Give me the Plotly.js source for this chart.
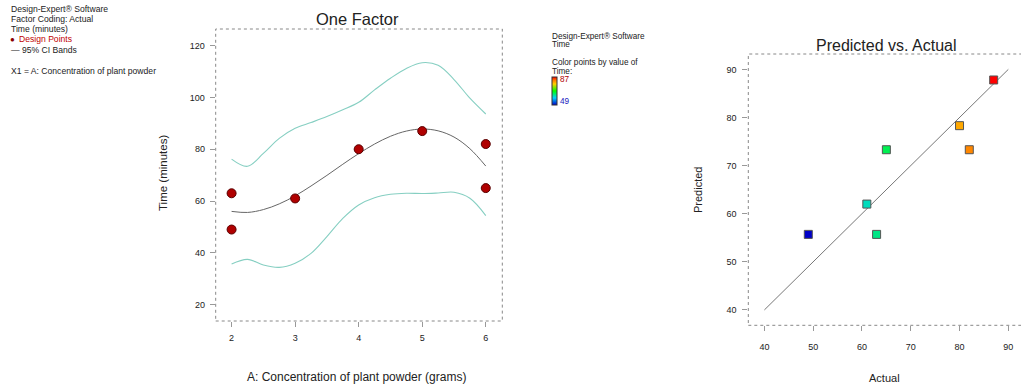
<!DOCTYPE html>
<html>
<head>
<meta charset="utf-8">
<script src="https://cdn.plot.ly/plotly-3.0.1.min.js"></script>
<style>html,body{margin:0;padding:0;background:#fff}#chart{width:1021px;height:388px}</style>
</head>
<body>
<div id="chart"></div>
<script>
// ---- One Factor plot data ----
const factorLevels = [2, 2, 3, 4, 5, 6, 6];
const timeObserved = [63, 49, 61, 80, 87, 82, 65];
const curveX = [2, 2.25, 2.5, 2.75, 3, 3.25, 3.5, 3.75, 4, 4.25, 4.5, 4.75, 5, 5.25, 5.5, 5.75, 6];
const fitTime = [56.0, 55.6, 56.7, 58.9, 62.0, 65.8, 69.9, 74.2, 78.3, 82.0, 85.0, 87.0, 87.8, 87.1, 84.7, 80.2, 73.5];
const upperCI = [76.2, 73.4, 78.4, 84.2, 88.1, 90.3, 92.6, 95.2, 98.1, 102.9, 107.4, 111.2, 113.4, 112.4, 106.9, 99.7, 93.6];
const lowerCI = [35.7, 37.5, 35.3, 34.4, 36.0, 39.8, 46.3, 53.3, 58.5, 61.3, 62.6, 63.0, 62.9, 63.1, 63.4, 61.1, 54.4];
const xTicks = [2, 3, 4, 5, 6];

// ---- Predicted vs. Actual data ----
const actualTime = [49, 61, 63, 65, 80, 82, 87];
const predictedTime = [55.7, 62.0, 55.7, 73.3, 78.3, 73.3, 87.8];
const diagonal = [40, 90];
const colorRange = [49, 87];

const W = 1021, H = 388;
const FONT = '"Liberation Sans", Arial, Helvetica, sans-serif';
const px = v => v / W;
const py = v => 1 - v / H;

const traces = [
  {x: curveX, y: upperCI, mode: 'lines', line: {color: '#86cfc2', width: 1.1, shape: 'spline'}, xaxis: 'x', yaxis: 'y', hoverinfo: 'skip'},
  {x: curveX, y: lowerCI, mode: 'lines', line: {color: '#86cfc2', width: 1.1, shape: 'spline'}, xaxis: 'x', yaxis: 'y', hoverinfo: 'skip'},
  {x: curveX, y: fitTime, mode: 'lines', line: {color: '#666666', width: 1, shape: 'spline'}, xaxis: 'x', yaxis: 'y'},
  {x: factorLevels, y: timeObserved, mode: 'markers', marker: {symbol: 'circle', size: 9, color: '#b00000', line: {color: '#5a0000', width: 1}}, xaxis: 'x', yaxis: 'y'},
  {x: diagonal, y: diagonal, mode: 'lines', line: {color: '#777777', width: 1}, xaxis: 'x2', yaxis: 'y2'},
  {x: actualTime, y: predictedTime, mode: 'markers', xaxis: 'x2', yaxis: 'y2',
   marker: {symbol: 'square', size: 8, color: actualTime, cmin: colorRange[0], cmax: colorRange[1],
     colorscale: [[0, '#0000c8'], [0.25, '#00d0ff'], [0.5, '#00ff00'], [0.75, '#ffd000'], [0.88, '#ff8000'], [1, '#ff0000']],
     line: {color: '#555', width: 1},
     showscale: true,
     colorbar: {x: px(552), xanchor: 'left', y: py(77), yanchor: 'top', len: 28, lenmode: 'pixels',
       thickness: 5, thicknessmode: 'pixels', xpad: 0, ypad: 0, outlinewidth: 1, outlinecolor: '#333',
       showticklabels: false, ticks: ''}}}
];

const tickFont = {family: FONT, size: 9, color: '#222'};
const axBase = {showgrid: false, zeroline: false, showline: false, ticks: 'outside', ticklen: 5, tickcolor: '#999', tickfont: tickFont, fixedrange: true};

const ann = (x, y, text, size, opts = {}) => Object.assign({xref: 'paper', yref: 'paper', x: px(x), y: py(y), text: text, showarrow: false, font: {family: FONT, size: size, color: opts.color || '#222'}, xanchor: opts.xanchor || 'left', yanchor: 'middle'}, opts.extra || {});

const layout = {
  width: W, height: H,
  margin: {l: 0, r: 0, t: 0, b: 0},
  paper_bgcolor: '#fff', plot_bgcolor: '#fff',
  showlegend: false,
  xaxis: Object.assign({}, axBase, {domain: [px(215.7), px(502.3)], range: [1.75, 6.26], tickvals: xTicks, anchor: 'y', ticklabelstandoff: 3}),
  yaxis: Object.assign({}, axBase, {domain: [py(321), py(29)], range: [13.7, 126.4], tick0: 20, dtick: 20, anchor: 'x', ticklabelstandoff: 3}),
  xaxis2: Object.assign({}, axBase, {domain: [px(748.3), 1], range: [36.7, 92.6], tick0: 40, dtick: 10, anchor: 'y2', ticklabelstandoff: 8}),
  yaxis2: Object.assign({}, axBase, {domain: [py(325.3), py(54)], range: [36.8, 93.2], tick0: 40, dtick: 10, anchor: 'x2', ticklabelstandoff: 4}),
  shapes: [
    {type: 'rect', xref: 'x domain', yref: 'y domain', x0: 0, x1: 1, y0: 0, y1: 1, line: {color: '#888', width: 1, dash: 'dot'}},
    {type: 'rect', xref: 'x2 domain', yref: 'y2 domain', x0: 0, x1: 1.05, y0: 0, y1: 1, line: {color: '#888', width: 1, dash: 'dot'}}
  ],
  annotations: [
    ann(9, 9, 'Design-Expert® Software', 8.6),
    ann(9, 19, 'Factor Coding: Actual', 8.6),
    ann(9, 29, 'Time (minutes)', 8.6),
    ann(8, 39.5, '●', 8, {color: '#8a0000'}),
    ann(17, 39.5, 'Design Points', 8.6, {color: '#c00000'}),
    ann(9, 49.5, '— 95% CI Bands', 8.6),
    ann(9, 71, 'X1 = A: Concentration of plant powder', 8.6),

    ann(550, 36, 'Design-Expert® Software', 8.2),
    ann(550, 44.5, 'Time', 8.2),
    ann(550, 63, 'Color points by value of', 8.2),
    ann(550, 71.5, 'Time:', 8.2),
    ann(558, 80, '87', 8.2, {color: '#b00000'}),
    ann(558, 102, '49', 8.2, {color: '#2020c0'}),

    ann(357, 19, 'One Factor', 16.5, {xanchor: 'center'}),
    ann(886, 45, 'Predicted vs. Actual', 16, {xanchor: 'center'}),
    ann(356.5, 377, 'A: Concentration of plant powder (grams)', 12, {xanchor: 'center'}),
    ann(884, 378, 'Actual', 11, {xanchor: 'center'}),
    ann(163, 173, 'Time (minutes)', 11.5, {xanchor: 'center', extra: {textangle: -90}}),
    ann(698, 190, 'Predicted', 11, {xanchor: 'center', extra: {textangle: -90}})
  ]
};

Plotly.newPlot('chart', traces, layout, {staticPlot: true, displayModeBar: false});
</script>
</body>
</html>
